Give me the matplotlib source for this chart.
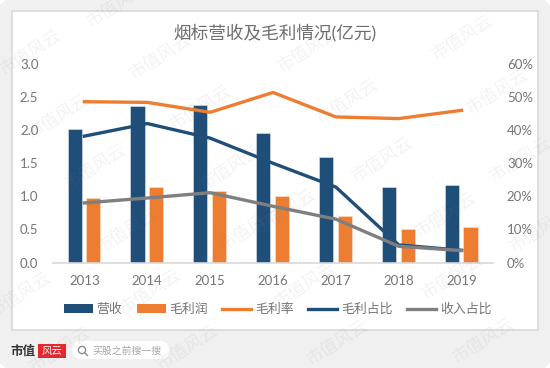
import numpy as np
import matplotlib
matplotlib.use('Agg')
import matplotlib.pyplot as plt
from matplotlib.patches import FancyBboxPatch, Rectangle, Circle
from matplotlib.lines import Line2D

plt.rcParams['font.family'] = ['Lato', 'Noto Sans CJK SC', 'DejaVu Sans']

years = ['2013', '2014', '2015', '2016', '2017', '2018', '2019']
revenue = [2.02, 2.365, 2.385, 1.955, 1.59, 1.145, 1.165]
gross_profit = [0.98, 1.145, 1.085, 1.00, 0.70, 0.50, 0.53]
gross_margin = [48.6, 48.4, 45.4, 51.4, 44.0, 43.5, 46.0]
profit_share = [38.2, 42.0, 37.6, 30.0, 22.8, 5.3, 3.7]
income_share = [18.0, 19.5, 21.1, 17.0, 13.1, 4.9, 3.6]

NAVY = '#1f4e79'
ORANGE = '#ed7d31'
GREY = '#7f7f7f'
TXT = '#757575'

W, H = 550, 368
fig = plt.figure(figsize=(W / 100, H / 100), dpi=100, facecolor='white')

#----- backdrop, drawn in pixel coordinates
bg = fig.add_axes([0, 0, 1, 1], zorder=0)
bg.set_xlim(0, W)
bg.set_ylim(H, 0)
bg.axis('off')
bg.add_patch(FancyBboxPatch((8, 8), W - 16, H - 16, boxstyle='round,pad=0,rounding_size=10',
                            mutation_aspect=1, fc='#f0f0f0', ec='#f0f0f0', lw=16))
bg.add_patch(Rectangle((12, 11), 526, 319, fc='white', ec='#d9d9d9', lw=1.2))

#----- chart
ax = fig.add_axes([53 / W, 1 - 262.5 / H, 440 / W, 198.5 / H], zorder=2)
ax.patch.set_alpha(0)
x = np.arange(len(years))
bar_w = 0.225
ax.bar(x - 0.155, revenue, bar_w, color=NAVY, edgecolor='#dfe6ee', lw=0.4)
ax.bar(x + 0.143, gross_profit, bar_w, color=ORANGE, edgecolor='#fbe3d2', lw=0.4)
ax.set_xlim(-0.5, 6.5)
ax.set_ylim(0, 3)
ax.set_yticks(np.arange(0, 3.01, 0.5))
ax.set_xticks(x)
ax.set_xticklabels(years)
ax.tick_params(axis='both', length=0, labelsize=9.5, labelcolor=TXT)
ax.tick_params(axis='x', pad=9)
ax.tick_params(axis='y', pad=10.5)
for s in ['top', 'left', 'right']:
    ax.spines[s].set_visible(False)
ax.spines['bottom'].set_color('#d9d9d9')
ax.spines['bottom'].set_linewidth(1.2)

ax2 = ax.twinx()
ax2.plot(x, gross_margin, color=ORANGE, lw=2.4)
ax2.plot(x, profit_share, color=NAVY, lw=2.4)
ax2.plot(x, income_share, color=GREY, lw=2.4)
ax2.set_ylim(0, 60)
ax2.set_yticks(np.arange(0, 61, 10))
ax2.set_yticklabels(['%d%%' % v for v in range(0, 61, 10)])
ax2.tick_params(axis='y', length=0, labelsize=9.5, labelcolor=TXT, pad=10)
for s in ['top', 'left', 'right', 'bottom']:
    ax2.spines[s].set_visible(False)

fig.text(275 / W, 1 - 33 / H, '烟标营收及毛利情况(亿元)', fontsize=12.7, color='#6e6e6e',
         ha='center', va='center')

handles = [Rectangle((0, 0), 1, 1, fc=NAVY), Rectangle((0, 0), 1, 1, fc=ORANGE),
           Line2D([], [], color=ORANGE, lw=2.4), Line2D([], [], color=NAVY, lw=2.4),
           Line2D([], [], color=GREY, lw=2.4)]
fig.legend(handles, ['营收', '毛利润', '毛利率', '毛利占比', '收入占比'], ncol=5,
           loc='center', bbox_to_anchor=(277.5 / W, 1 - 309 / H), frameon=False,
           fontsize=9.3, labelcolor=TXT, handlelength=2.25, handletextpad=0.3,
           columnspacing=1.1, handleheight=0.65)

#----- footer
bg.text(23, 351, '市值', fontsize=9, fontweight='bold', color='#333333', ha='center',
        va='center', family=['Noto Sans CJK SC'])
bg.add_patch(Rectangle((38, 344), 28, 14, fc='#e8262d', ec='none'))
bg.text(52, 351, '风云', fontsize=7.5, color='white', ha='center', va='center',
        family=['Noto Sans CJK SC'])
bg.add_patch(FancyBboxPatch((72, 341), 97, 18, boxstyle='round,pad=0,rounding_size=9',
                            fc='white', ec='none'))
bg.add_patch(Circle((82, 350), 3.6, fc='none', ec='#8c8c8c', lw=1))
bg.plot([84.8, 87.5], [352.8, 355.5], color='#8c8c8c', lw=1)
bg.text(92, 351, '买股之前搜一搜', fontsize=7.1, color='#a6a6a6', va='center',
        family=['Noto Sans CJK SC'])

#----- watermarks over everything
wm = fig.add_axes([0, 0, 1, 1], zorder=5)
wm.set_xlim(0, W)
wm.set_ylim(H, 0)
wm.axis('off')
wm_x = [30, 160, 117, 58, 200, 462, 308, 347, 497, 382, 520, 95, 230,
        127, 20, 150, 250, 187, 285, 452, 305, 337, 483, 540, 445, 60]
wm_y = [53, 57, 5, 117, 108, 38, 50, 102, 92, 160, 160, 167, 168,
        231, 295, 292, 229, 348, 212, 277, 285, 343, 341, 230, 215, 350]
for a, b in zip(wm_x, wm_y):
    wm.text(a, b, '市值风云', fontsize=12.5, color='#808080', alpha=0.1, rotation=33,
            ha='center', va='center', family=['Noto Sans CJK SC'], fontweight='light')

plt.savefig('out.png', dpi=100)
